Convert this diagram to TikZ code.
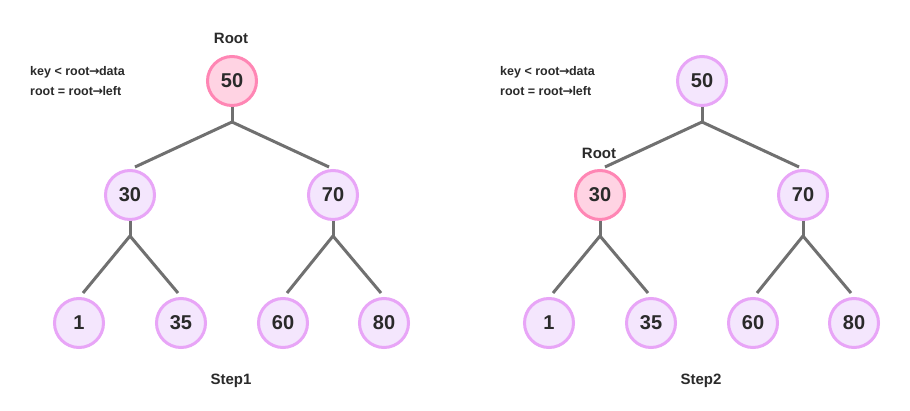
\documentclass[tikz,border=0pt]{standalone}
\usepackage{fontspec}
\setmainfont{Liberation Sans}
\newfontfamily\arrowfont{DejaVu Sans}
\newcommand{\myarr}{{\arrowfont\bfseries\kern-0.5pt→\kern-0.5pt}}
\usetikzlibrary{calc}
\definecolor{nfill}{HTML}{F4E6FD}
\definecolor{ndraw}{HTML}{E8A5F7}
\definecolor{rfill}{HTML}{FFD3E3}
\definecolor{rdraw}{HTML}{FF86B4}
\definecolor{edge}{HTML}{707070}
\definecolor{txt}{HTML}{2A2A2A}
\begin{document}
\begin{tikzpicture}[x=1pt,y=-1pt,
  tnode/.style={circle,line width=3pt,draw=ndraw,fill=nfill,minimum size=49pt,inner sep=0pt,
    font=\fontsize{20}{22}\selectfont\bfseries,text=txt},
  rnode/.style={tnode,draw=rdraw,fill=rfill},
  conn/.style={line width=3pt,draw=edge},
  lbl/.style={font=\fontsize{15}{17}\selectfont\bfseries,text=txt,inner sep=0pt},
  note/.style={font=\fontsize{12.5}{14}\selectfont\bfseries,text=txt,inner sep=0pt,anchor=west}]
\fill[white] (0,0) rectangle (910,411);
\useasboundingbox (0,0) rectangle (910,411);
% ---------- Step 1 ----------
\node[rnode] (a50) at (232,81) {50};
\node[tnode] (a30) at (130,195) {30};
\node[tnode] (a70) at (333,195) {70};
\node[tnode] (a1) at (79,323) {1};
\node[tnode] (a35) at (181,323) {35};
\node[tnode] (a60) at (283,323) {60};
\node[tnode] (a80) at (384,323) {80};
\node[lbl] (aroot) at (231,38) {Root};
\node[lbl] (astep) at (231,381) {Step1};
\node[note] (akey) at (30,72) {key < root\myarr data};
\node[note] (aleft) at (30,91) {root = root\myarr left};
\coordinate (aj1) at ($(a50.south)+(0,15)$);
\coordinate (aj2) at ($(a30.south)+(0,15)$);
\coordinate (aj3) at ($(a70.south)+(0,15)$);
\draw[conn] (a50.south) -- (aj1);
\draw[conn] (aj1) -- ($(a30.north)+(5,-2)$);
\draw[conn] (aj1) -- ($(a70.north)+(-4,-2)$);
\draw[conn] (a30.south) -- (aj2);
\draw[conn] (aj2) -- ($(a1.north)+(4,-4)$);
\draw[conn] (aj2) -- ($(a35.north)+(-3,-4)$);
\draw[conn] (a70.south) -- (aj3);
\draw[conn] (aj3) -- ($(a60.north)+(4,-4)$);
\draw[conn] (aj3) -- ($(a80.north)+(-3,-4)$);
% ---------- Step 2 ----------
\node[tnode] (b50) at (702,81) {50};
\node[rnode] (b30) at (600,195) {30};
\node[tnode] (b70) at (803,195) {70};
\node[tnode] (b1) at (549,323) {1};
\node[tnode] (b35) at (651,323) {35};
\node[tnode] (b60) at (753,323) {60};
\node[tnode] (b80) at (854,323) {80};
\node[lbl] (broot) at (599,153) {Root};
\node[lbl] (bstep) at (701,381) {Step2};
\node[note] (bkey) at (500,72) {key < root\myarr data};
\node[note] (bleft) at (500,91) {root = root\myarr left};
\coordinate (bj1) at ($(b50.south)+(0,15)$);
\coordinate (bj2) at ($(b30.south)+(0,15)$);
\coordinate (bj3) at ($(b70.south)+(0,15)$);
\draw[conn] (b50.south) -- (bj1);
\draw[conn] (bj1) -- ($(b30.north)+(5,-2)$);
\draw[conn] (bj1) -- ($(b70.north)+(-4,-2)$);
\draw[conn] (b30.south) -- (bj2);
\draw[conn] (bj2) -- ($(b1.north)+(4,-4)$);
\draw[conn] (bj2) -- ($(b35.north)+(-3,-4)$);
\draw[conn] (b70.south) -- (bj3);
\draw[conn] (bj3) -- ($(b60.north)+(4,-4)$);
\draw[conn] (bj3) -- ($(b80.north)+(-3,-4)$);
\end{tikzpicture}
\end{document}
